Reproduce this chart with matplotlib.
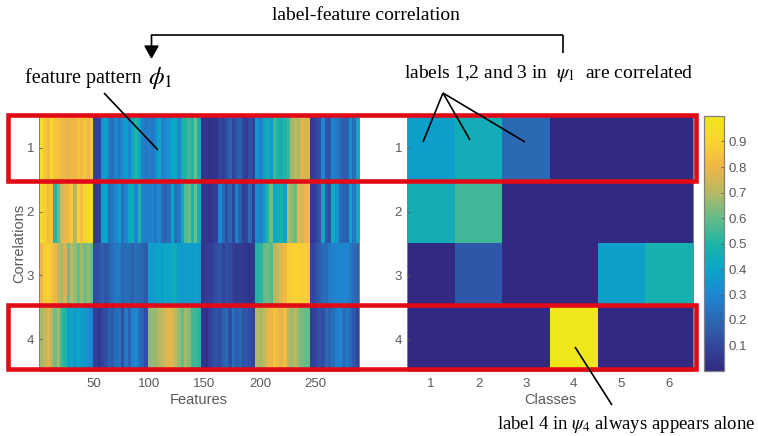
import numpy as np
import matplotlib
matplotlib.use("Agg")
import matplotlib.pyplot as plt
from matplotlib.colors import LinearSegmentedColormap
from matplotlib.patches import Rectangle

plt.rcParams['font.family'] = ['Liberation Sans', 'DejaVu Sans']
plt.rcParams['mathtext.fontset'] = 'stix'

block_sizes = [49, 49, 48, 49, 50, 44]

row1 = [
    [.97,.86,.82,.95,.85,.84,.82,.80,.78,.82,.80,.85,.82,.85,.80,.86],
    [.08,.10,.35,.38,.25,.22,.30,.25,.32,.38,.30,.42,.50,.40,.28,.25],
    [.27,.25,.30,.40,.28,.30,.35,.40,.42,.30,.48,.50,.55,.50,.62,.47],
    [.04,.05,.03,.05,.04,.10,.08,.12,.18,.10,.15,.18,.10,.07,.12,.09],
    [.35,.28,.42,.45,.38,.55,.50,.45,.50,.55,.68,.72,.68,.78,.75,.76],
    [.07,.10,.12,.30,.15,.14,.28,.25,.20,.17,.18,.33,.22,.40],
]
row2 = [
    [.95,.88,.82,.83,.50,.60,.75,.80,.82,.86,.70,.90,.83,.92,.95,.97],
    [.06,.08,.38,.40,.22,.25,.30,.38,.23,.30,.42,.45,.30,.50,.28,.27],
    [.27,.30,.25,.30,.20,.18,.22,.40,.22,.25,.42,.58,.60,.50,.62,.45],
    [.04,.05,.04,.06,.08,.30,.20,.12,.20,.10,.28,.18,.08,.10,.20,.07],
    [.32,.28,.38,.50,.62,.42,.45,.48,.40,.70,.65,.60,.78,.75,.80,.82],
    [.07,.10,.14,.42,.15,.13,.43,.35,.20,.18,.17,.40,.25,.42],
]
row3 = [
    [.80,.88,.89,.85,.80,.72,.68,.75,.62,.72,.66,.60,.68,.62,.66,.60],
    [.12,.14,.18,.14,.18,.22,.25,.26,.20,.22,.20,.18,.22,.20,.19,.16],
    [.37,.36,.38,.40,.38,.42,.40,.43,.44,.38,.36,.37,.38,.36,.38,.36],
    [.05,.07,.08,.10,.12,.14,.10,.13,.11,.08,.06,.07,.06,.05,.04,.05],
    [.50,.52,.60,.62,.58,.70,.72,.78,.82,.88,.89,.90,.90,.88,.90,.87],
    [.10,.14,.17,.20,.22,.26,.28,.29,.30,.30,.29,.26,.20,.18],
]
row4 = [
    [.68,.72,.78,.70,.62,.68,.55,.50,.38,.42,.36,.40,.38,.36,.32,.30],
    [.08,.05,.10,.12,.18,.16,.22,.24,.12,.25,.18,.28,.30,.22,.18,.12],
    [.65,.67,.66,.70,.72,.75,.78,.76,.72,.66,.60,.68,.65,.55,.55,.52],
    [.05,.03,.08,.12,.14,.12,.18,.20,.12,.22,.17,.19,.14,.15,.12,.10],
    [.70,.68,.72,.78,.80,.85,.82,.78,.83,.70,.68,.72,.66,.62,.60,.60],
    [.08,.10,.15,.12,.20,.18,.22,.28,.30,.22,.26,.20,.15,.10],
]
class_row1 = [.38, .45, .20, .0, .0, .0]
class_row2 = [.46, .55, .0, .0, .0, .0]
class_row3 = [.0, .15, .0, .0, .38, .47]
class_row4 = [.0, .0, .0, 1.0, .0, .0]

row_ticks = [1, 2, 3, 4]
feature_ticks = [50, 100, 150, 200, 250]
class_ticks = [1, 2, 3, 4, 5, 6]
cbar_ticks = [.1, .2, .3, .4, .5, .6, .7, .8, .9]

anchors = ['#322a80', '#33469f', '#2a69b4', '#1e87d2', '#0aa5c8', '#1eb4a5',
           '#64bc8a', '#b4b964', '#f0b548', '#fad232', '#efe61c']
parula = LinearSegmentedColormap.from_list('parula_like', anchors, N=256)

def expand(row):
    out = []
    for vals, n in zip(row, block_sizes):
        idx = (np.arange(n) * len(vals) / n).astype(int)
        out.append(np.asarray(vals)[idx])
    return np.concatenate(out)

features = np.vstack([expand(r) for r in (row1, row2, row3, row4)])
classes = np.array([class_row1, class_row2, class_row3, class_row4])

W, H = 758, 436
fig = plt.figure(figsize=(W / 100, H / 100), dpi=100)

def px_axes(x0, y0, x1, y1, **kw):
    return fig.add_axes([x0 / W, 1 - y1 / H, (x1 - x0) / W, (y1 - y0) / H], **kw)

GRAY = '#5a5a5a'
ax1 = px_axes(39, 116, 359, 371)
im1 = ax1.imshow(features, cmap=parula, vmin=0, vmax=1, aspect='auto',
                 interpolation='nearest', extent=(0.5, 289.5, 4.5, 0.5))
ax2 = px_axes(407, 116, 693, 371)
im2 = ax2.imshow(classes, cmap=parula, vmin=0, vmax=1, aspect='auto',
                 interpolation='nearest', extent=(0.5, 6.5, 4.5, 0.5))
cax = px_axes(704, 116, 724, 371)
cb = fig.colorbar(im2, cax=cax, ticks=cbar_ticks)
cb.ax.set_yticklabels([f'{t:.1f}' for t in cbar_ticks])

ax1.set_xticks(feature_ticks)
ax1.set_yticks(row_ticks)
ax2.set_xticks(class_ticks)
ax2.set_yticks(row_ticks)
ax1.set_xlabel('Features', fontsize=10.5, color=GRAY, labelpad=2)
ax1.set_ylabel('Correlations', fontsize=10.5, color=GRAY, labelpad=0)
ax2.set_xlabel('Classes', fontsize=10.5, color=GRAY, labelpad=2)
for ax in (ax1, ax2, cax):
    ax.tick_params(direction='in', length=2.5, width=0.6, colors=GRAY,
                   labelsize=9.5)
    ax.tick_params(axis='x', pad=5)
    ax.tick_params(axis='y', pad=3.5)
    for s in ax.spines.values():
        s.set_color('#808080')
        s.set_linewidth(0.7)
cax.tick_params(length=2, pad=3)
cb.outline.set_edgecolor('#808080')
cb.outline.set_linewidth(0.9)

# pixel-coordinate overlay for the annotations
ov = fig.add_axes([0, 0, 1, 1], facecolor='none')
ov.set_xlim(0, W)
ov.set_ylim(H, 0)
ov.axis('off')

RED = '#e30a17'
for y0, y1 in [(114.5, 180.5), (305, 369)]:
    ov.add_patch(Rectangle((8, y0), 687.5, y1 - y0, fill=False, ec=RED, lw=3.3,
                           joinstyle='miter'))

LW = 1.2
def seg(x0, y0, x1, y1):
    ov.plot([x0, x1], [y0, y1], color='black', lw=LW, solid_capstyle='butt')

seg(104, 93, 158, 150)
seg(563, 53, 563, 35)
seg(563, 35, 151.5, 35)
ov.annotate('', xy=(151.5, 59), xytext=(151.5, 35),
            arrowprops=dict(arrowstyle='-|>,head_length=0.8,head_width=0.45',
                            color='black', lw=LW, shrinkA=0, shrinkB=0))
seg(443, 93, 423, 142)
seg(443, 93, 470, 140)
seg(443, 93, 525, 142)
seg(575, 347, 612, 405)

SERIF = ['Liberation Serif', 'DejaVu Serif']
def label(x, y, s, size=14, ha='left'):
    ov.text(x, y, s, family=SERIF, fontsize=size, ha=ha, va='center', color='black')

label(366, 16, 'label-feature correlation')
ov.texts[-1].set_ha('center')
label(25, 78, 'feature pattern', size=14.5)
label(148, 78, r'$\phi_1$', size=18)
label(404, 74, r'labels 1,2 and 3 in  $\psi_1$  are correlated', size=14)
label(497, 424, r'label 4 in $\psi_4$ always appears alone', size=13.5)

fig.savefig('out.png', dpi=100)
